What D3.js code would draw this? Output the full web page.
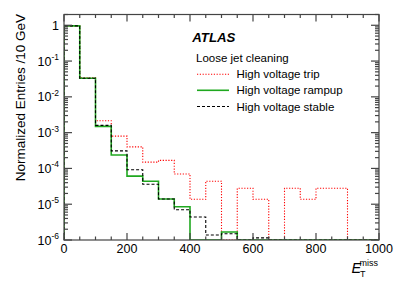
<!DOCTYPE html>
<html><head><meta charset="utf-8">
<script src="https://cdn.jsdelivr.net/npm/d3@7"></script>
<style>
body{margin:0;background:#fff}
svg{display:block}
text{font-family:"Liberation Sans",Arial,Helvetica,sans-serif;fill:#000}
</style>
</head><body>
<svg id="c" width="399" height="286"></svg>
<script>
// ---- data ----
const binEdges = [0,50,100,150,200,250,300,350,400,450,500,550,600,650,700,750,800,850,900,950,1000];
const trip    = [0.96, 0.034, 2.15e-3, 8.0e-4, 4.0e-4, 1.5e-4, 1.68e-4, 7.0e-5, 1.37e-5, 4.4e-5, 0, 2.8e-5, 1.37e-5, 0, 2.8e-5, 1.37e-5, 2.8e-5, 2.8e-5, 0, 0];
const rampup  = [0.96, 0.033, 1.5e-3, 2.37e-4, 6.1e-5, 4.4e-5, 1.4e-5, 8.5e-6, 0, 0, 1.67e-6, 0, 0, 0, 0, 0, 0, 0, 0, 0];
const stable  = [0.96, 0.033, 1.6e-3, 3.1e-4, 9.2e-5, 3.6e-5, 1.4e-5, 7.0e-6, 4.4e-6, 1.38e-6, 1.5e-6, 0, 1.15e-6, 0, 0, 0, 0, 0, 0, 0];
const seriesNames = ["High voltage trip", "High voltage rampup", "High voltage stable"];
const xTickLabels = [0,200,400,600,800,1000];
const xMinorTicks = d3.range(0,1001,50);
const yTickExps = [0,-1,-2,-3,-4,-5,-6];

// ---- layout ----
const L = 64, R = 379, T = 14.5, B = 240;
const svg = d3.select("#c");
const x = d3.scaleLinear().domain([0,1000]).range([L,R]);
const y = d3.scaleLog().domain([1e-6, 2.0]).range([B,T]).clamp(true);
const yv = v => v > 0 ? y(v) : B;

svg.append("defs").append("clipPath").attr("id","clip")
  .append("rect").attr("x",L).attr("y",T).attr("width",R-L).attr("height",B-T);

function histPath(vals){
  const p = d3.path();
  p.moveTo(x(binEdges[0]), B);
  vals.forEach((v,i)=>{
    p.lineTo(x(binEdges[i]), yv(v));
    p.lineTo(x(binEdges[i+1]), yv(v));
  });
  p.lineTo(x(binEdges[binEdges.length-1]), B);
  return p.toString();
}

const styles = [
  {vals: trip, color:"#ff0000", width:1.1, dash:"1.2,1.6"},
  {vals: rampup, color:"#1fa81f", width:1.6, dash:null},
  {vals: stable, color:"#000000", width:1.1, dash:"3,2"}
];
const g = svg.append("g").attr("clip-path","url(#clip)");
styles.forEach(s=>{
  g.append("path").attr("d", histPath(s.vals))
    .attr("fill","none").attr("stroke",s.color).attr("stroke-width",s.width)
    .attr("stroke-dasharray", s.dash);
});

// ---- frame & ticks ----
const axCol = "#444";
const ax = svg.append("g").attr("stroke",axCol).attr("stroke-width",1.2).attr("fill","none");
xMinorTicks.forEach(t=>{
  const len = (t % 200 === 0) ? 7 : 3.5;
  ax.append("line").attr("x1",x(t)).attr("x2",x(t)).attr("y1",B).attr("y2",B-len);
  ax.append("line").attr("x1",x(t)).attr("x2",x(t)).attr("y1",T).attr("y2",T+len);
});
const yMinor = [];
for (let e=-6; e<=0; e++){ for (let m=1; m<=9; m++){ const v=m*Math.pow(10,e); if (v<=2.0) yMinor.push({v, major:m===1}); } }
yMinor.forEach(d=>{
  const len = d.major ? 8 : 4;
  const yy = y(d.v);
  ax.append("line").attr("x1",L).attr("x2",L+len).attr("y1",yy).attr("y2",yy);
  ax.append("line").attr("x1",R).attr("x2",R-len).attr("y1",yy).attr("y2",yy);
});
ax.append("rect").attr("x",L).attr("y",T).attr("width",R-L).attr("height",B-T);

// ---- tick labels ----
xTickLabels.forEach(t=>{
  svg.append("text").attr("x",x(t)).attr("y",253).attr("text-anchor","middle")
    .attr("font-size",12.5).text(t);
});
yTickExps.forEach(e=>{
  const yy = y(Math.pow(10,e));
  const tx = svg.append("text").attr("x",59).attr("y",yy+4.5).attr("text-anchor","end").attr("font-size",12.5);
  if (e===0){ tx.text("1"); }
  else {
    tx.append("tspan").text("10");
    tx.append("tspan").attr("font-size",8.5).attr("dy",-5.5).text(String(e));
  }
});

// ---- axis titles ----
svg.append("text").attr("transform","translate(25,14) rotate(-90)")
  .attr("text-anchor","end").attr("font-size",13.5).text("Normalized Entries /10 GeV");
const xt = svg.append("text").attr("x",351.5).attr("y",273).attr("font-size",14.5);
xt.append("tspan").attr("font-style","italic").text("E");
svg.append("text").attr("x",360).attr("y",277).attr("font-size",9).text("T");
svg.append("text").attr("x",359.5).attr("y",265.5).attr("font-size",9).text("miss");

// ---- legend ----
svg.append("text").attr("x",192.3).attr("y",41.5).attr("font-size",13.2)
  .attr("font-weight","bold").attr("font-style","italic").text("ATLAS");
svg.append("text").attr("x",196).attr("y",61.8).attr("font-size",11.5).text("Loose jet cleaning");
const legY = [74.3, 90.3, 106.5];
styles.forEach((s,i)=>{
  svg.append("line").attr("x1",197).attr("x2",229).attr("y1",legY[i]).attr("y2",legY[i])
    .attr("stroke",s.color).attr("stroke-width",s.width).attr("stroke-dasharray",s.dash);
  svg.append("text").attr("x",236.5).attr("y",legY[i]+4).attr("font-size",11.5).text(seriesNames[i]);
});
</script>
</body></html>
